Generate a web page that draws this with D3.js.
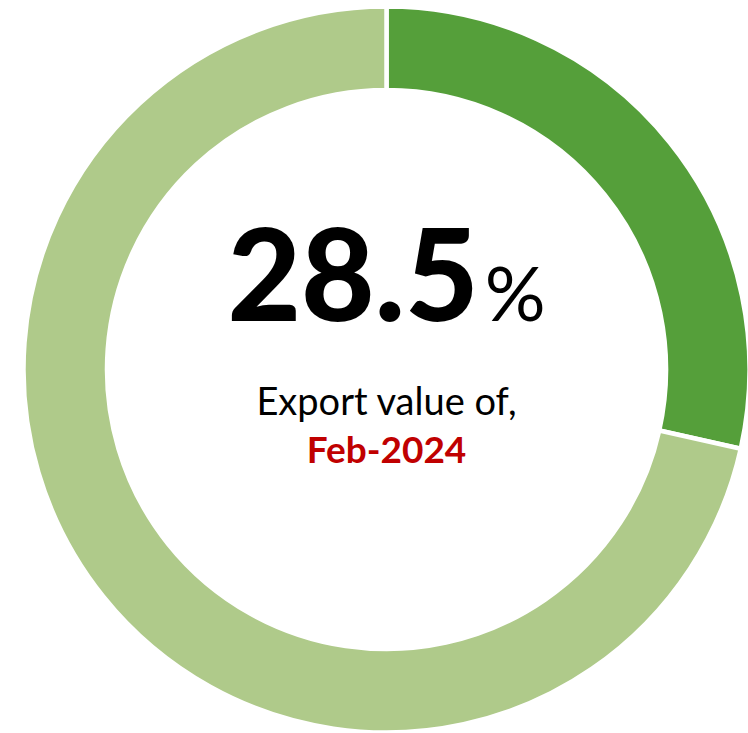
<!DOCTYPE html>
<html>
<head>
<meta charset="utf-8">
<script src="https://cdn.jsdelivr.net/npm/d3@7"></script>
<style>
  html, body { margin: 0; padding: 0; background: #fff; }
  svg { display: block; }
</style>
</head>
<body>
<div id="chart"></div>
<script>
const w = 748;
const h = 733;

const categories = ['Export share', 'Rest'];
const values = [28.5, 71.5];
const colors = ['#559f3a', '#afca8a'];
const periodLabel = 'Feb-2024';
const captionLabel = 'Export value of,';

const cx = 386.5;
const cy = 369.5;
const outerR = 363;
const innerR = 279.5;

const svg = d3.select('#chart')
  .append('svg')
  .attr('width', w)
  .attr('height', h);

const pie = d3.pie().sort(null).value(d => d.value);
const arc = d3.arc().innerRadius(innerR).outerRadius(outerR);

const slices = pie(categories.map((c, i) => ({ name: c, value: values[i] })));

const color = d3.scaleOrdinal().domain(categories).range(colors);

const g = svg.append('g')
  .attr('transform', 'translate(' + cx + ',' + cy + ')');

g.selectAll('path')
  .data(slices)
  .enter()
  .append('path')
  .attr('d', arc)
  .attr('fill', d => color(d.data.name))
  .attr('stroke', '#fff')
  .attr('stroke-width', 4.5);

// center text
const big = g.append('text')
  .attr('text-anchor', 'middle')
  .attr('y', -49)
  .style('font-family', 'Lato, "Open Sans", sans-serif');

big.append('tspan')
  .style('font-weight', 900)
  .style('font-size', '127px')
  .text(d3.format('.1f')(values[0]));

big.append('tspan')
  .style('font-weight', 400)
  .style('font-size', '76px')
  .attr('dx', 6)
  .text('%');

g.append('text')
  .attr('text-anchor', 'middle')
  .attr('y', 45)
  .style('font-family', 'Lato, "Open Sans", sans-serif')
  .style('font-size', '38px')
  .style('fill', '#000')
  .text(captionLabel);

g.append('text')
  .attr('text-anchor', 'middle')
  .attr('y', 93)
  .style('font-family', 'Lato, "Open Sans", sans-serif')
  .style('font-size', '37px')
  .style('font-weight', 700)
  .style('fill', '#c00000')
  .text(periodLabel);
</script>
</body>
</html>
